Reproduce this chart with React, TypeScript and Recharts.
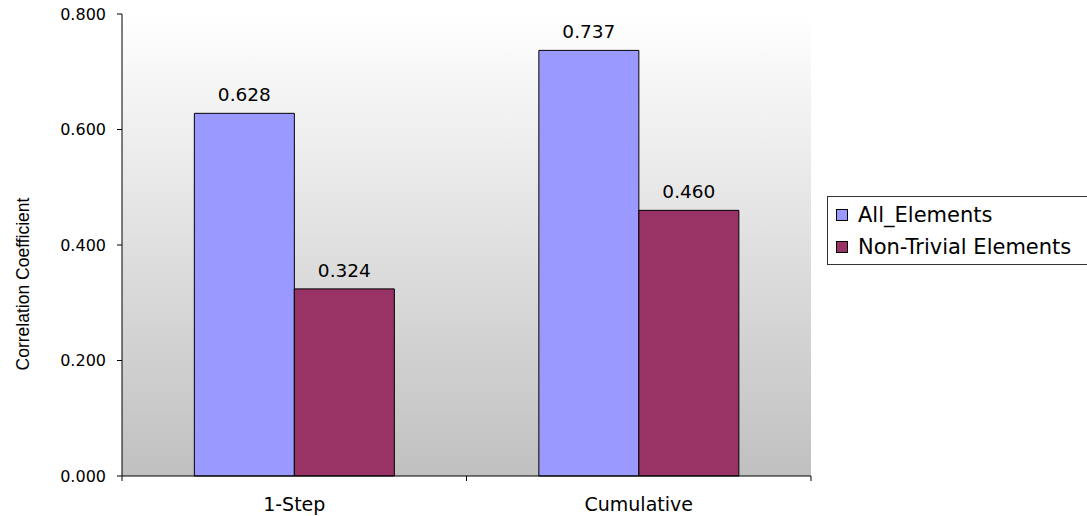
import React from "react";
import {
  Bar,
  BarChart,
  CartesianGrid,
  LabelList,
  Legend,
  XAxis,
  YAxis,
} from "recharts";

const categories = ["1-Step", "Cumulative"];
const allElements = [0.628, 0.737];
const nonTrivialElements = [0.324, 0.46];
const yTicks = [0, 0.2, 0.4, 0.6, 0.8];

const series = [
  { key: "all", name: "All_Elements", color: "#9999ff" },
  { key: "nonTrivial", name: "Non-Trivial Elements", color: "#993366" },
];

const data = categories.map((name, i) => ({
  name,
  all: allElements[i],
  nonTrivial: nonTrivialElements[i],
}));

const FONT = "'DejaVu Sans', sans-serif";
const LABEL_FONT = "'Liberation Sans', Arial, sans-serif";
const WIDTH = 1087;
const HEIGHT = 516;
const MARGIN = { top: 14, right: 276, bottom: 0, left: 0 };
const Y_AXIS_WIDTH = 122;
const PLOT_WIDTH = WIDTH - MARGIN.left - MARGIN.right - Y_AXIS_WIDTH;
const BAND = PLOT_WIDTH / categories.length;

// category label centred under each group, with tick marks on the group edges
function CategoryTick(props: any) {
  const { x, y, payload } = props;
  return (
    <g>
      <line x1={x - BAND / 2} y1={y - 8} x2={x - BAND / 2} y2={y - 3} stroke="#000" />
      <line x1={x + BAND / 2} y1={y - 8} x2={x + BAND / 2} y2={y - 3} stroke="#000" />
      <text
        x={x}
        y={y + 27}
        textAnchor="middle"
        fill="#000"
        fontSize={19}
        fontFamily={FONT}
      >
        {payload.value}
      </text>
    </g>
  );
}

// axis title sits a little below the middle of the value axis
function YTitle(props: any) {
  const { viewBox } = props;
  const x = viewBox.x + 23;
  const y = viewBox.y + viewBox.height / 2 + 39;
  return (
    <text
      x={x}
      y={y}
      transform={`rotate(-90 ${x} ${y})`}
      textAnchor="middle"
      dominantBaseline="central"
      fill="#000"
      fontSize={17.5}
      fontFamily={LABEL_FONT}
    >
      Correlation Coefficient
    </text>
  );
}

function LegendBox() {
  return (
    <div
      style={{
        border: "1px solid #333",
        background: "#fff",
        padding: "2px 24px 1px 8px",
        fontFamily: FONT,
        fontSize: 21,
        lineHeight: "32px",
        color: "#000",
        whiteSpace: "nowrap",
      }}
    >
      {series.map((s) => (
        <div key={s.key} style={{ display: "flex", alignItems: "center" }}>
          <span
            style={{
              display: "inline-block",
              width: 10,
              height: 10,
              background: s.color,
              border: "1px solid #000",
              marginRight: 10,
            }}
          />
          {s.name}
        </div>
      ))}
    </div>
  );
}

export default function App() {
  return (
    <div
      style={{
        position: "absolute",
        left: 0,
        top: 0,
        width: WIDTH,
        height: HEIGHT,
        overflow: "hidden",
        background: "#fff",
      }}
    >
      <BarChart
        width={WIDTH}
        height={HEIGHT}
        data={data}
        margin={MARGIN}
        barCategoryGap="21%"
        barGap={0}
      >
        <defs>
          <linearGradient id="plotFill" x1="0" y1="0" x2="0" y2="1">
            <stop offset="0%" stopColor="#ffffff" />
            <stop offset="100%" stopColor="#c0c0c0" />
          </linearGradient>
        </defs>
        <CartesianGrid
          horizontal={false}
          vertical={false}
          fill="url(#plotFill)"
          fillOpacity={1}
        />
        <XAxis
          dataKey="name"
          height={40}
          axisLine={{ stroke: "#000" }}
          tickLine={false}
          tick={<CategoryTick />}
          interval={0}
        />
        <XAxis
          xAxisId="frame"
          orientation="top"
          dataKey="name"
          height={0}
          tick={false}
          tickLine={false}
          axisLine={{ stroke: "#808080", strokeWidth: 2 }}
        />
        <YAxis
          width={Y_AXIS_WIDTH}
          domain={[0, 0.8]}
          ticks={yTicks}
          tickFormatter={(v: number) => v.toFixed(3)}
          axisLine={{ stroke: "#000" }}
          tickLine={{ stroke: "#000" }}
          tickSize={5}
          tickMargin={11}
          tick={{ fill: "#000", fontSize: 16, fontFamily: FONT }}
          label={<YTitle />}
        />
        <YAxis
          yAxisId="frame"
          orientation="right"
          width={0}
          domain={[0, 0.8]}
          tick={false}
          tickLine={false}
          axisLine={{ stroke: "#808080", strokeWidth: 2 }}
        />
        <Legend
          layout="horizontal"
          verticalAlign="middle"
          align="center"
          content={<LegendBox />}
          wrapperStyle={{ left: 827, top: 196, width: "auto", height: "auto" }}
        />
        {series.map((s) => (
          <Bar
            key={s.key}
            dataKey={s.key}
            name={s.name}
            fill={s.color}
            stroke="#000"
            strokeWidth={1}
            isAnimationActive={false}
          >
            <LabelList
              dataKey={s.key}
              position="top"
              offset={12}
              formatter={(v: any) => Number(v).toFixed(3)}
              style={{ fill: "#000", fontSize: 18.5, fontFamily: FONT }}
            />
          </Bar>
        ))}
      </BarChart>
    </div>
  );
}
